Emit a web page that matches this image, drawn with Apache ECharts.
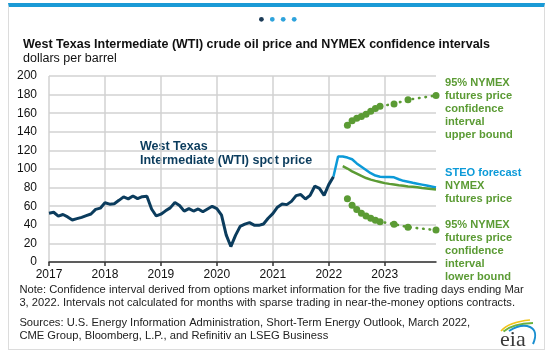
<!DOCTYPE html>
<html>
<head>
<meta charset="utf-8">
<script src="https://cdn.jsdelivr.net/npm/echarts@6/dist/echarts.min.js"></script>
<style>
  html, body { margin: 0; padding: 0; background: #ffffff; }
  #card { position: absolute; left: 8px; top: 3px; width: 535px; height: 342px;
          border: 1px solid #dcdcdc; border-top: 4px solid #1a9ad6; }
  #chart { position: absolute; left: 0; top: 0; width: 553px; height: 355px; }
</style>
</head>
<body>
<div id="card"></div>
<div id="chart"></div>
<script>
// ---- data ----
const years = ['2017', '2018', '2019', '2020', '2021', '2022', '2023'];
const monthCodes = ['01','02','03','04','05','06','07','08','09','10','11','12'];

// WTI spot price, Jan 2017 - Feb 2022
const wtiSpot = [
  52.5, 53.5, 49.3, 51.1, 48.5, 45.2, 46.6, 48.0, 49.8, 51.6, 56.6, 57.9,
  63.7, 62.2, 62.7, 66.3, 70.0, 67.9, 71.0, 68.1, 70.2, 70.8, 57.0, 49.5,
  51.4, 55.0, 58.2, 63.9, 60.8, 54.7, 57.4, 54.8, 57.0, 54.0, 57.0, 59.9,
  57.5, 50.5, 29.2, 16.6, 28.6, 38.3, 40.7, 42.3, 39.6, 39.4, 40.9, 47.0,
  52.0, 59.0, 62.3, 61.7, 65.2, 71.4, 72.5, 67.7, 71.6, 81.5, 79.2, 71.7,
  83.2, 91.6
];
// STEO forecast, Feb 2022 - Dec 2023
const steoStart = '2022-02';
const steoForecast = [
  91.6, 113.5, 113.5, 112.3, 110.5, 106, 102.5, 99, 95.5, 93, 91.7,
  91.5, 91.3, 91, 89, 87.3, 86.3, 85.2, 84.2, 83.2, 82.2, 81.2, 80.2
];
// NYMEX futures price, Apr 2022 - Dec 2023
const nymexStart = '2022-04';
const nymexFutures = [
  103, 100.5, 97.5, 95, 92.5, 90.3, 88.6, 87.2, 86,
  84.8, 84, 83.3, 82.6, 82, 81.3, 80.9, 80.3, 79.6, 79.1, 78.5, 78
];
// 95% confidence interval bounds, May 2022 - Dec 2023 (null = not calculated)
const ciStart = '2022-05';
const ciUpper = [147, 152, 154.5, 156.5, 159, 162, 165, 167.5,
  null, null, 170, null, null, 174.5, null, null, null, null, null, 179];
const ciLower = [68, 61, 56.5, 52.5, 49.5, 47, 45, 43.3,
  null, null, 40.7, null, null, 37.5, null, null, null, null, null, 34.3];

const yTicks = { min: 0, max: 200, interval: 20 };

// ---- build ----
const months = [];
years.forEach(y => monthCodes.forEach(m => months.push(y + '-' + m)));
function place(start, values) {
  const out = months.map(() => null);
  const s = months.indexOf(start);
  values.forEach((v, i) => { out[s + i] = v; });
  return out;
}
const wtiData = place('2017-01', wtiSpot);
const steoData = place(steoStart, steoForecast);
const nymexData = place(nymexStart, nymexFutures);
const upperData = place(ciStart, ciUpper);
const lowerData = place(ciStart, ciLower);

const FONT = '"Liberation Sans", Arial, sans-serif';
const NAVY = '#0b3c5d';
const BLUE = '#0c9ad8';
const GREEN = '#5b9b34';

const chart = echarts.init(document.getElementById('chart'), null, { renderer: 'canvas' });

function txt(x, y, text, font, fill, extra) {
  return Object.assign({
    type: 'text', x: x, y: y,
    style: { text: text, font: font, fill: fill, align: 'left', verticalAlign: 'middle',
             textAlign: 'left', textVerticalAlign: 'middle' }
  }, extra || {});
}

const ciLine = { width: 2.6, type: [0.5, 6], cap: 'round', color: GREEN };

chart.setOption({
  animation: false,
  backgroundColor: 'transparent',
  grid: { left: 49, right: 117, top: 76, bottom: 93, containLabel: false },
  xAxis: {
    type: 'category',
    data: months,
    boundaryGap: false,
    axisLine: { show: true, lineStyle: { color: '#333', width: 1.5 } },
    axisTick: { show: true, interval: 11, length: 4, lineStyle: { color: '#333', width: 1.5 } },
    axisLabel: { interval: 11, margin: 7, color: '#111', fontSize: 12, fontFamily: FONT,
                 formatter: v => v.slice(0, 4) },
    splitLine: { show: true, interval: 11, lineStyle: { color: '#d2d2d2', width: 1.5 } }
  },
  yAxis: {
    type: 'value',
    min: yTicks.min, max: yTicks.max, interval: yTicks.interval,
    axisLine: { show: false },
    axisTick: { show: false },
    axisLabel: { margin: 12, color: '#111', fontSize: 12, fontFamily: FONT },
    splitLine: { show: true, lineStyle: { color: '#d2d2d2', width: 1.5 } }
  },
  series: [
    { type: 'line', name: 'STEO forecast', data: steoData, showSymbol: false,
      lineStyle: { color: BLUE, width: 2.5 }, z: 3 },
    { type: 'line', name: 'NYMEX futures', data: nymexData, showSymbol: false,
      lineStyle: { color: GREEN, width: 2.5 }, z: 3 },
    { type: 'line', name: 'WTI spot', data: wtiData, showSymbol: false,
      lineStyle: { color: NAVY, width: 3 }, z: 4 },
    { type: 'line', name: 'CI upper', data: upperData, connectNulls: true,
      showAllSymbol: true, symbol: 'circle', symbolSize: 7,
      itemStyle: { color: GREEN }, lineStyle: ciLine, z: 3 },
    { type: 'line', name: 'CI lower', data: lowerData, connectNulls: true,
      showAllSymbol: true, symbol: 'circle', symbolSize: 7,
      itemStyle: { color: GREEN }, lineStyle: ciLine, z: 3 }
  ],
  graphic: [
    // pager dots
    { type: 'circle', shape: { cx: 261.4, cy: 19.3, r: 2.4 }, style: { fill: '#1c3b57' } },
    { type: 'circle', shape: { cx: 272.3, cy: 19.3, r: 2.4 }, style: { fill: '#2ea3dc' } },
    { type: 'circle', shape: { cx: 283.2, cy: 19.3, r: 2.4 }, style: { fill: '#2ea3dc' } },
    { type: 'circle', shape: { cx: 294.2, cy: 19.3, r: 2.4 }, style: { fill: '#2ea3dc' } },
    // title
    txt(23, 44.5, 'West Texas Intermediate (WTI) crude oil price and NYMEX confidence intervals',
        'bold 12.5px ' + FONT, '#111'),
    txt(23, 58.5, 'dollars per barrel', '12.5px ' + FONT, '#111'),
    // series labels
    txt(140, 146.7, 'West Texas', 'bold 12.5px ' + FONT, NAVY),
    txt(140, 160.5, 'Intermediate (WTI) spot price', 'bold 12.5px ' + FONT, NAVY),
    txt(445, 83.3, '95% NYMEX', 'bold 11.1px ' + FONT, GREEN),
    txt(445, 96.1, 'futures price', 'bold 11.1px ' + FONT, GREEN),
    txt(445, 108.9, 'confidence', 'bold 11.1px ' + FONT, GREEN),
    txt(445, 121.7, 'interval', 'bold 11.1px ' + FONT, GREEN),
    txt(445, 134.5, 'upper bound', 'bold 11.1px ' + FONT, GREEN),
    txt(445, 173.3, 'STEO forecast', 'bold 11.1px ' + FONT, BLUE),
    txt(445, 186.2, 'NYMEX', 'bold 11.1px ' + FONT, GREEN),
    txt(445, 199, 'futures price', 'bold 11.1px ' + FONT, GREEN),
    txt(445, 225.3, '95% NYMEX', 'bold 11.1px ' + FONT, GREEN),
    txt(445, 238.1, 'futures price', 'bold 11.1px ' + FONT, GREEN),
    txt(445, 250.9, 'confidence', 'bold 11.1px ' + FONT, GREEN),
    txt(445, 263.7, 'interval', 'bold 11.1px ' + FONT, GREEN),
    txt(445, 276.5, 'lower bound', 'bold 11.1px ' + FONT, GREEN),
    // notes
    txt(19.4, 289.5, 'Note: Confidence interval derived from options market information for the five trading days ending Mar',
        '11.2px ' + FONT, '#222'),
    txt(19.4, 303, '3, 2022. Intervals not calculated for months with sparse trading in near-the-money options contracts.',
        '11.2px ' + FONT, '#222'),
    txt(19.4, 322.5, 'Sources: U.S. Energy Information Administration, Short-Term Energy Outlook, March 2022,',
        '11.2px ' + FONT, '#222'),
    txt(19.4, 336, 'CME Group, Bloomberg, L.P., and Refinitiv an LSEG Business',
        '11.2px ' + FONT, '#222'),
    // eia logo
    { type: 'bezierCurve', shape: { x1: 501, y1: 331, cpx1: 509, cpy1: 322, x2: 530, y2: 320 },
      style: { stroke: '#f2c318', lineWidth: 1.6, fill: null } },
    { type: 'bezierCurve', shape: { x1: 503.5, y1: 331.5, cpx1: 513, cpy1: 323.5, x2: 533, y2: 323 },
      style: { stroke: '#6db33f', lineWidth: 2, fill: null } },
    { type: 'bezierCurve', shape: { x1: 509, y1: 331, cpx1: 525, cpy1: 321, cpx2: 541, cpy2: 326, x2: 533, y2: 344 },
      style: { stroke: '#1a8fd0', lineWidth: 2, fill: null } },
    { type: 'text', x: 500, y: 339.8,
      style: { text: 'eia', font: '22px "Liberation Serif", "Times New Roman", serif', fill: '#3a3a3a',
               align: 'left', verticalAlign: 'middle', textAlign: 'left', textVerticalAlign: 'middle' } }
  ]
});
</script>
</body>
</html>
